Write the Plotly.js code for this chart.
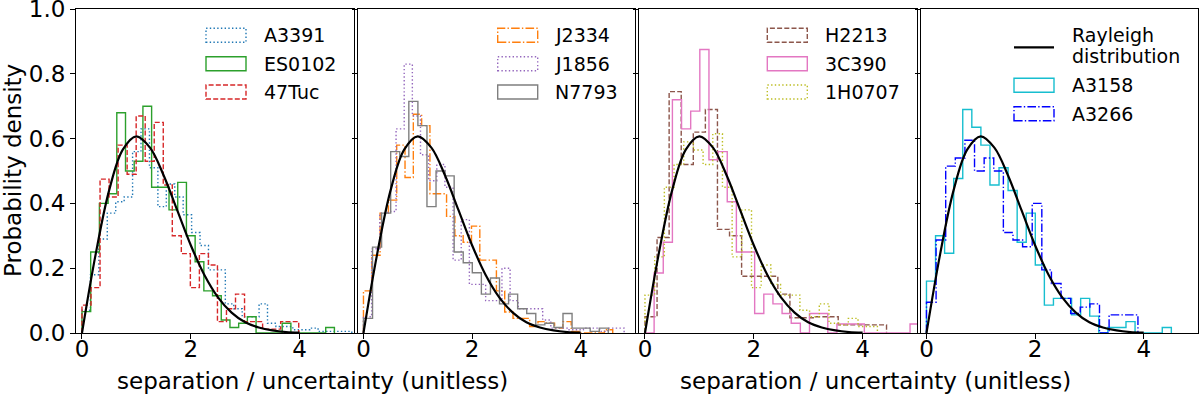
<!DOCTYPE html>
<html>
<head>
<meta charset="utf-8">
<script src="https://cdn.plot.ly/plotly-3.0.1.min.js"></script>
<style>
  html, body { margin: 0; padding: 0; background: #fff; }
  #chart { width: 1200px; height: 396px; }
</style>
</head>
<body>
<div id="chart"></div>
<script>
// Histogram heights (probability density), one value per bin, bins start at 0
const a3391Width = 0.155;
const a3391 = [0.07, 0.18, 0.29, 0.37, 0.405, 0.42, 0.56, 0.63, 0.51, 0.39, 0.46, 0.42, 0.365, 0.31, 0.27, 0.195, 0.195, 0.09, 0.075, 0.05, 0.05, 0.09, 0.03, 0.02, 0.02, 0.01, 0.01, 0.015, 0.005, 0.005, 0.005, 0.005];
const es0102Width = 0.16;
const es0102 = [0.066, 0.25, 0.40, 0.43, 0.68, 0.50, 0.53, 0.70, 0.45, 0.45, 0.38, 0.465, 0.30, 0.22, 0.13, 0.115, 0.04, 0.017, 0.03, 0.05, 0, 0, 0, 0.03, 0, 0, 0, 0, 0.017];
const tuc47Width = 0.166;
const tuc47 = [0.086, 0.14, 0.475, 0.42, 0.58, 0.49, 0.67, 0.53, 0.65, 0.457, 0.30, 0.245, 0.14, 0.245, 0.21, 0.035, 0.075, 0.12, 0.035, 0.035, 0.012, 0.012, 0.035, 0.035];

const j2334Width = 0.153;
const j2334 = [0.13, 0.24, 0.37, 0.41, 0.58, 0.48, 0.675, 0.64, 0.43, 0.43, 0.36, 0.30, 0.28, 0.33, 0.225, 0.225, 0.13, 0.065, 0.045, 0.045, 0.02, 0.035, 0.03, 0.015, 0.035, 0.005, 0, 0, 0, 0.01];
const j1856Width = 0.15;
const j1856 = [0.05, 0.26, 0.37, 0.375, 0.63, 0.83, 0.67, 0.55, 0.47, 0.52, 0.45, 0.225, 0.35, 0.15, 0.15, 0.10, 0.10, 0.20, 0.10, 0.075, 0.075, 0.075, 0.04, 0.015, 0.015, 0.01, 0.01, 0.015, 0.015, 0.005, 0.015, 0.015];
const n7793Width = 0.167;
const n7793 = [0.045, 0.265, 0.37, 0.56, 0.545, 0.715, 0.64, 0.39, 0.50, 0.485, 0.25, 0.217, 0.186, 0.12, 0.17, 0.09, 0.12, 0.075, 0.06, 0.025, 0.03, 0.017, 0.06, 0.015, 0.015, 0.005, 0.015];

const h2213Width = 0.222;
const h2213 = [0.05, 0.295, 0.745, 0.52, 0.62, 0.69, 0.32, 0.30, 0.175, 0.175, 0.175, 0.12, 0.047, 0.047, 0.05, 0.05, 0.025, 0.025, 0.025, 0.025];
const c390Width = 0.168;
const c390 = [0, 0.185, 0.28, 0.72, 0.63, 0.685, 0.875, 0.535, 0.56, 0.405, 0.25, 0.25, 0.06, 0.12, 0.09, 0.06, 0.03, 0, 0.06, 0.06, 0, 0.028, 0.028, 0.028, 0, 0, 0, 0, 0, 0.028];
const h0707Width = 0.178;
const h0707 = [0.117, 0.235, 0.45, 0.52, 0.59, 0.565, 0.52, 0.615, 0.45, 0.235, 0.38, 0.14, 0.21, 0.15, 0.117, 0.117, 0.07, 0.05, 0.09, 0.03, 0.025, 0.045, 0.02, 0.02];

const a3158Width = 0.167;
const a3158 = [0.16, 0.30, 0.246, 0.477, 0.69, 0.635, 0.58, 0.457, 0.51, 0.44, 0.28, 0.37, 0.21, 0.086, 0.107, 0.107, 0.056, 0.107, 0.052, 0, 0.017, 0.017, 0.035, 0, 0, 0, 0.017];
const a3266Width = 0.177;
const a3266 = [0.095, 0.287, 0.515, 0.54, 0.595, 0.50, 0.54, 0.50, 0.31, 0.287, 0.266, 0.40, 0.195, 0.153, 0.107, 0.06, 0.08, 0.09, 0, 0.056, 0.056, 0.056];

// Rayleigh curve
const rayleighX = [0, 0.25, 0.5, 0.75, 1, 1.25, 1.5, 1.75, 2, 2.25, 2.5, 2.75, 3, 3.25, 3.5, 3.75, 4];
const rayleighY = [0, 0.242, 0.441, 0.566, 0.607, 0.572, 0.487, 0.379, 0.271, 0.179, 0.110, 0.063, 0.033, 0.017, 0.008, 0.003, 0.001];

const xTicks = [0, 2, 4];
const yTicks = [0, 0.2, 0.4, 0.6, 0.8, 1.0];
const xTitle = "separation / uncertainty (unitless)";
const yTitle = "Probability density";
const rayleighLabel = ["Rayleigh", "distribution"];

const DOT = "1.4px,2.3px";
const DASH = "5px,2.2px";
const DASHDOT = "8.6px,2.2px,1.4px,2.2px";

const series = [
  { name: "A3391", values: a3391, width: a3391Width, panel: 1, color: "#1f77b4", dash: DOT },
  { name: "ES0102", values: es0102, width: es0102Width, panel: 1, color: "#2ca02c", dash: "solid" },
  { name: "47Tuc", values: tuc47, width: tuc47Width, panel: 1, color: "#d62728", dash: DASH },
  { name: "J2334", values: j2334, width: j2334Width, panel: 2, color: "#ff7f0e", dash: DASHDOT },
  { name: "J1856", values: j1856, width: j1856Width, panel: 2, color: "#9467bd", dash: DOT },
  { name: "N7793", values: n7793, width: n7793Width, panel: 2, color: "#7f7f7f", dash: "solid" },
  { name: "H2213", values: h2213, width: h2213Width, panel: 3, color: "#8c564b", dash: DASH },
  { name: "3C390", values: c390, width: c390Width, panel: 3, color: "#e377c2", dash: "solid" },
  { name: "1H0707", values: h0707, width: h0707Width, panel: 3, color: "#bcbd22", dash: DOT },
  { name: "A3158", values: a3158, width: a3158Width, panel: 4, color: "#17becf", dash: "solid" },
  { name: "A3266", values: a3266, width: a3266Width, panel: 4, color: "#0000ff", dash: DASHDOT },
];

// plot-area pixel box, used to place the hand-drawn legends and titles
const L = 76, R = 1198, T = 9, B = 333;
const px = (p) => (p - L) / (R - L);
const py = (p) => (B - p) / (B - T);

const FONT = "DejaVu Sans, sans-serif";

function stepOutline(values, width) {
  // matplotlib "step" histogram outline
  const x = [0];
  const y = [0];
  values.forEach((v, i) => {
    x.push(i * width);
    y.push(v);
  });
  x.push(values.length * width);
  y.push(0);
  return { x, y };
}

const axisSuffix = (p) => (p === 1 ? "" : String(p));

const traces = [];
series.forEach((s) => {
  const pts = stepOutline(s.values, s.width);
  traces.push({
    x: pts.x,
    y: pts.y,
    name: s.name,
    type: "scatter",
    mode: "lines",
    line: { color: s.color, width: 1.4, dash: s.dash, shape: "hv" },
    xaxis: "x" + axisSuffix(s.panel),
    yaxis: "y" + axisSuffix(s.panel),
    hoverinfo: "skip",
  });
});

[1, 2, 3, 4].forEach((p) => {
  traces.push({
    x: rayleighX,
    y: rayleighY,
    name: "Rayleigh distribution",
    type: "scatter",
    mode: "lines",
    line: { color: "black", width: 2.2, shape: "spline", smoothing: 1 },
    xaxis: "x" + axisSuffix(p),
    yaxis: "y" + axisSuffix(p),
    hoverinfo: "skip",
  });
});

const domains = [
  [px(76), px(354)],
  [px(357.5), px(635)],
  [px(639), px(917)],
  [px(920.5), px(1198)],
];

const layout = {
  width: 1200,
  height: 396,
  margin: { l: L, r: 1200 - R, t: T, b: 396 - B },
  paper_bgcolor: "white",
  plot_bgcolor: "white",
  showlegend: false,
  font: { family: FONT, size: 23, color: "black" },
  shapes: [],
  annotations: [],
};

domains.forEach((d, i) => {
  const s = axisSuffix(i + 1);
  layout["xaxis" + s] = {
    domain: d,
    anchor: "y" + s,
    range: [-0.11, 5.0],
    tickvals: xTicks,
    ticktext: xTicks.map(String),
    ticks: "outside",
    ticklen: 4.5,
    tickwidth: 1,
    tickcolor: "black",
    ticklabelstandoff: -9,
    showline: true,
    linecolor: "black",
    linewidth: 1,
    mirror: true,
    showgrid: false,
    zeroline: false,
    tickfont: { family: FONT, size: 23, color: "black" },
    automargin: false,
  };
  layout["yaxis" + s] = {
    domain: [0, 1],
    anchor: "x" + s,
    range: [0, 1.0001],
    tickvals: yTicks,
    ticktext: yTicks.map((v) => v.toFixed(1)),
    showticklabels: i === 0,
    ticklabeloverflow: "allow",
    ticks: "outside",
    ticklen: 5,
    tickwidth: 1,
    tickcolor: "black",
    showline: true,
    linecolor: "black",
    linewidth: 1,
    mirror: true,
    showgrid: false,
    zeroline: false,
    tickfont: { family: FONT, size: 23, color: "black" },
    automargin: false,
  };
});

function legendText(x, y, text) {
  layout.annotations.push({
    xref: "paper",
    yref: "paper",
    x: px(x),
    y: py(y),
    xanchor: "left",
    yanchor: "middle",
    text: text,
    showarrow: false,
    font: { family: FONT, size: 19, color: "black" },
  });
}

// Legends: outlined boxes like matplotlib step patches
const legendLeft = [206, 497.7, 767.3, 1014];
const rowY = [35.3, 63.7, 92];
const rowY4 = [85.3, 113.7];

[1, 2, 3, 4].forEach((p) => {
  const entries = series.filter((s) => s.panel === p);
  const x0 = legendLeft[p - 1];
  const rows = p === 4 ? rowY4 : rowY;
  entries.forEach((s, k) => {
    const yc = rows[k];
    layout.shapes.push({
      type: "rect",
      xref: "paper",
      yref: "paper",
      x0: px(x0),
      x1: px(x0 + 40),
      y0: py(yc + 7),
      y1: py(yc - 7),
      line: { color: s.color, width: 1.4, dash: s.dash },
      fillcolor: "rgba(0,0,0,0)",
    });
    legendText(x0 + 55.5, yc, s.name);
  });
});

// Rayleigh entry of the last legend
layout.shapes.push({
  type: "line",
  xref: "paper",
  yref: "paper",
  x0: px(1014),
  x1: px(1054),
  y0: py(47.3),
  y1: py(47.3),
  line: { color: "black", width: 2.2 },
});
legendText(1069.5, 35, rayleighLabel[0]);
legendText(1069.5, 56, rayleighLabel[1]);

// Axis titles
layout.annotations.push({
  xref: "paper",
  yref: "paper",
  x: px(13),
  y: 0.5,
  xanchor: "center",
  yanchor: "middle",
  textangle: -90,
  text: yTitle,
  showarrow: false,
  font: { family: FONT, size: 23, color: "black" },
});
[312, 875].forEach((cx) => {
  layout.annotations.push({
    xref: "paper",
    yref: "paper",
    x: px(cx),
    y: py(381),
    xanchor: "center",
    yanchor: "middle",
    text: xTitle,
    showarrow: false,
    font: { family: FONT, size: 23, color: "black" },
  });
});

Plotly.newPlot("chart", traces, layout, { staticPlot: true, displayModeBar: false });
</script>
</body>
</html>
